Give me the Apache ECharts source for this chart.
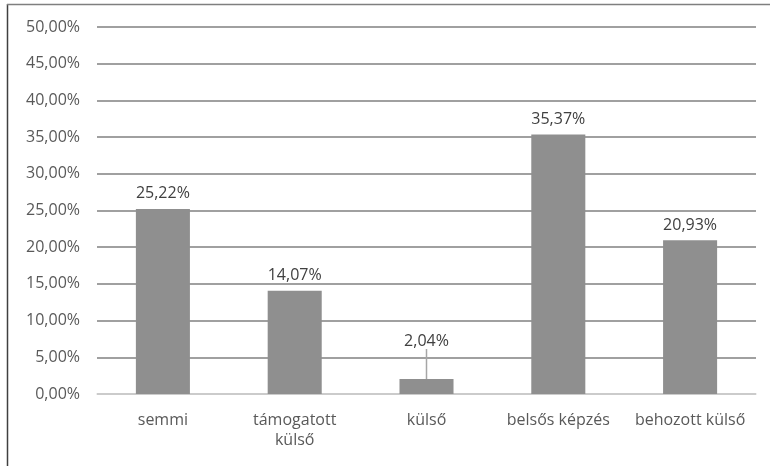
<!DOCTYPE html>
<html><head><meta charset="utf-8">
<script src="https://cdn.jsdelivr.net/npm/echarts@6/dist/echarts.min.js"></script>
<style>html,body{margin:0;padding:0;background:#fff}#c{width:770px;height:466px}</style>
</head><body><div id="c"></div>
<script>
var categories = ['semmi', 'támogatott\nkülső', 'külső', 'belsős képzés', 'behozott külső'];
var values = [25.22, 14.07, 2.04, 35.37, 20.93];
var yTicks = [0, 5, 10, 15, 20, 25, 30, 35, 40, 45, 50];

function fmt(v) { return v.toFixed(2).replace('.', ',') + '%'; }
var FONT = 'Open Sans';
var FS = 16;
var chart = echarts.init(document.getElementById('c'), null, {renderer: 'canvas'});
var barData = values.map(function (v, i) {
  return i === 2 ? {value: v, labelLine: {show: true}} : v;
});
chart.setOption({
  animation: false,
  grid: {left: 97, right: 14, top: 27, bottom: 72},
  graphic: [
    {type: 'line', shape: {x1: 7.5, y1: 4, x2: 7.5, y2: 466}, style: {stroke: '#404040', lineWidth: 1.5}},
    {type: 'line', shape: {x1: 7, y1: 4.5, x2: 770, y2: 4.5}, style: {stroke: '#7f7f7f', lineWidth: 1.5}}
  ],
  xAxis: {
    type: 'category', data: categories,
    axisLine: {show: true, lineStyle: {color: '#d9d9d9', width: 1.5}},
    axisTick: {show: false},
    axisLabel: {color: '#595959', fontFamily: FONT, fontSize: FS, margin: 16, lineHeight: 20, interval: 0, hideOverlap: false}
  },
  yAxis: {
    type: 'value', min: yTicks[0], max: yTicks[yTicks.length - 1], interval: 5,
    axisLine: {show: false}, axisTick: {show: false},
    axisLabel: {color: '#595959', fontFamily: FONT, fontSize: FS, margin: 17, formatter: function (v) { return fmt(v); }},
    splitLine: {lineStyle: {color: '#808080', width: 1.5}}
  },
  series: [{
    type: 'bar', data: barData, barWidth: '41%',
    itemStyle: {color: '#8f8f8f'},
    label: {show: true, position: 'top', distance: 7, color: '#404040', fontFamily: FONT, fontSize: FS,
      formatter: function (p) { return fmt(p.value); }},
    labelLayout: function (p) { return p.dataIndex === 2 ? {dy: -23} : {}; },
    labelLine: {show: false, lineStyle: {color: '#a6a6a6', width: 1.5}}
  }]
});
</script></body></html>
